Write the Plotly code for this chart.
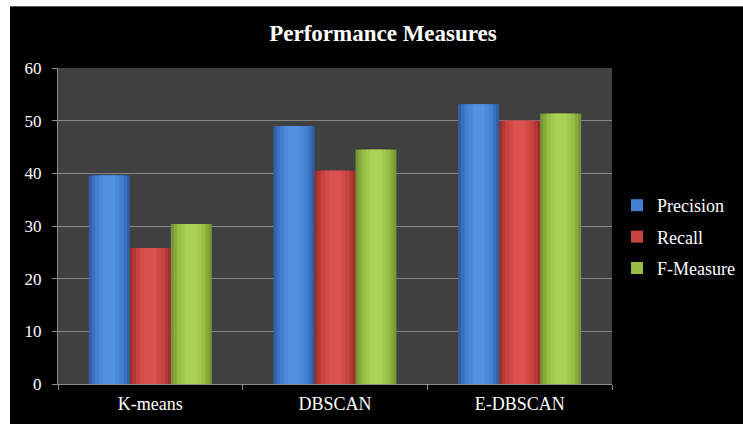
import plotly.graph_objects as go

categories = ["K-means", "DBSCAN", "E-DBSCAN"]
precision = [39.6, 49.0, 53.1]
recall = [25.8, 40.5, 50.0]
fmeasure = [30.4, 44.5, 51.3]
y_ticks = [0, 10, 20, 30, 40, 50, 60]

# shading layers from edge to centre (cylinder-like look)
series = [
    ("Precision", precision, ["#315fa3", "#3a6fbd", "#4380cf", "#4a89d9", "#5292e0"]),
    ("Recall", recall, ["#9e2f2c", "#b53a37", "#c94340", "#d44a46", "#dc524e"]),
    ("F-Measure", fmeasure, ["#789634", "#88aa3c", "#97bd45", "#a1c94c", "#aad255"]),
]
layer_fracs = [1.0, 0.86, 0.7, 0.5, 0.3]

W = 743
H = 424
ML, MR, MT, MB = 58, 131, 68, 40
pw = W - ML - MR
ph = H - MT - MB

bar_w = 0.222
group_start = -0.333

fig = go.Figure()
for j, (name, vals, shades) in enumerate(series):
    off = group_start + j * bar_w
    for k, (frac, col) in enumerate(zip(layer_fracs, shades)):
        w = bar_w * frac
        fig.add_trace(go.Bar(
            x=categories, y=vals, name=name, width=w,
            offset=off + (bar_w - w) / 2,
            marker=dict(color=col, line=dict(width=0)),
            legendgroup=name, showlegend=(k == 2),
            hoverinfo=None if k == 0 else "skip",
        ))

serif = "Liberation Serif, Times New Roman, serif"

fig.update_layout(
    width=W, height=H,
    margin=dict(l=ML, r=MR, t=MT, b=MB, pad=0, autoexpand=False),
    paper_bgcolor="#000000",
    plot_bgcolor="#404040",
    barmode="overlay",
    title=dict(
        text="<b>Performance Measures</b>",
        font=dict(family=serif, size=23, color="#ffffff"),
        x=383 / W, xanchor="center", xref="container",
        y=1 - 33 / H, yanchor="middle", yref="container",
    ),
    showlegend=True,
    legend=dict(
        x=(617 - ML) / pw, xanchor="left",
        y=(H - MB - 237) / ph, yanchor="middle",
        font=dict(family=serif, size=18, color="#ffffff"),
        bgcolor="rgba(0,0,0,0)",
        traceorder="grouped",
        tracegroupgap=5,
        itemwidth=30,
    ),
    xaxis=dict(
        type="category",
        showgrid=False,
        showline=True, linecolor="#8c8c8c", linewidth=1,
        ticks="outside", tickson="boundaries", ticklen=5, tickcolor="#8c8c8c",
        tickfont=dict(family=serif, size=18, color="#ffffff"),
        ticklabelstandoff=3,
        range=[-0.5, 2.5],
    ),
    yaxis=dict(
        range=[0, 60],
        tickvals=y_ticks,
        showgrid=True, gridcolor="#858585", gridwidth=1,
        showline=True, linecolor="#8c8c8c", linewidth=1,
        ticks="outside", ticklen=5, tickcolor="#8c8c8c",
        tickfont=dict(family=serif, size=17, color="#ffffff"),
        ticklabelstandoff=7,
        zeroline=False,
    ),
    shapes=[
        dict(type="rect", xref="paper", yref="paper",
             x0=-0.3, x1=(10 - ML) / pw, y0=-0.3, y1=1.4,
             fillcolor="#ffffff", line=dict(width=0)),
        dict(type="rect", xref="paper", yref="paper",
             x0=-0.3, x1=1.4, y0=(H - MB - 6) / ph, y1=1.4,
             fillcolor="#ffffff", line=dict(width=0)),
        dict(type="line", xref="paper", yref="paper",
             x0=(10 - ML) / pw, x1=1.4, y0=(H - MB - 6.5) / ph, y1=(H - MB - 6.5) / ph,
             line=dict(color="#555555", width=1)),
    ],
)

fig.write_html("out.html")
